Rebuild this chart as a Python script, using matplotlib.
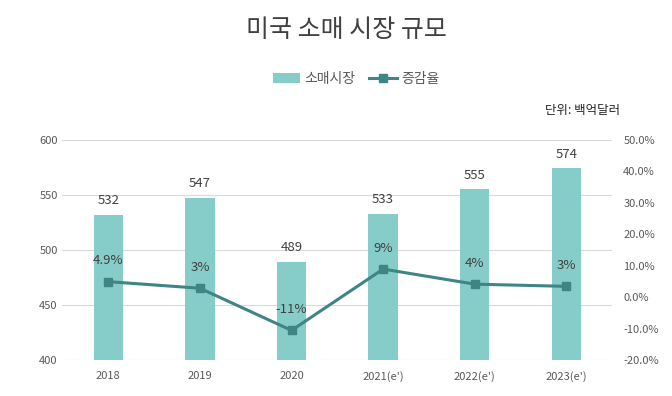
import matplotlib.pyplot as plt
import numpy as np

plt.rcParams['font.family'] = ['Noto Sans CJK KR', 'DejaVu Sans']

years = ['2018', '2019', '2020', "2021(e')", "2022(e')", "2023(e')"]
market = [532, 547, 489, 533, 555, 574]
growth = [4.9, 2.8, -10.6, 8.9, 4.1, 3.4]
growth_labels = ['4.9%', '3%', '-11%', '9%', '4%', '3%']

bar_color = '#86CCC8'
line_color = '#3E8584'
grid_color = '#D9D9D9'
text_color = '#595959'

fig = plt.figure(figsize=(6.72, 3.96), dpi=100)
ax = fig.add_axes([0.093, 0.091, 0.818, 0.556])
ax2 = ax.twinx()

x = np.arange(len(years))
ax.bar(x, market, width=0.32, color=bar_color, zorder=2, label='소매시장')
for xi, v in zip(x, market):
    ax.text(xi, v + 7, str(v), ha='center', va='bottom', fontsize=9.5, color='#404040')

ax.set_ylim(400, 600)
ax.set_yticks(range(400, 601, 50))
ax.set_xlim(-0.5, len(years) - 0.5)
ax.set_xticks(x)
ax.set_xticklabels(years)
ax.grid(axis='y', color=grid_color, linewidth=0.8, zorder=0)
ax.set_axisbelow(True)

ax2.plot(x, growth, color=line_color, linewidth=2.2, marker='s', markersize=6, zorder=3, label='증감율')
for xi, v, lab in zip(x, growth, growth_labels):
    ax2.text(xi, v + 4.5, lab, ha='center', va='bottom', fontsize=9.5, color='#404040')
ax2.set_ylim(-20, 50)
ax2.set_yticks(range(-20, 51, 10))
ax2.set_yticklabels([f'{t:.1f}%' for t in range(-20, 51, 10)])

for a in (ax, ax2):
    for s in a.spines.values():
        s.set_visible(False)
    a.tick_params(length=0, labelsize=8, labelcolor=text_color)
ax.tick_params(axis='x', pad=8)
ax2.tick_params(axis='y', pad=8)

fig.text(0.515, 0.925, '미국 소매 시장 규모', ha='center', va='center', fontsize=18, color='#404040')

h1, l1 = ax.get_legend_handles_labels()
h2, l2 = ax2.get_legend_handles_labels()
fig.legend(h1 + h2, l1 + l2, loc='center', bbox_to_anchor=(0.53, 0.80), ncol=2,
           frameon=False, fontsize=10, handlelength=2.0, handletextpad=0.3,
           columnspacing=1.0, labelcolor=text_color)

fig.text(0.923, 0.722, '단위: 백억달러', ha='right', va='center', fontsize=9, color='#262626')

fig.savefig('out.png', dpi=100)
